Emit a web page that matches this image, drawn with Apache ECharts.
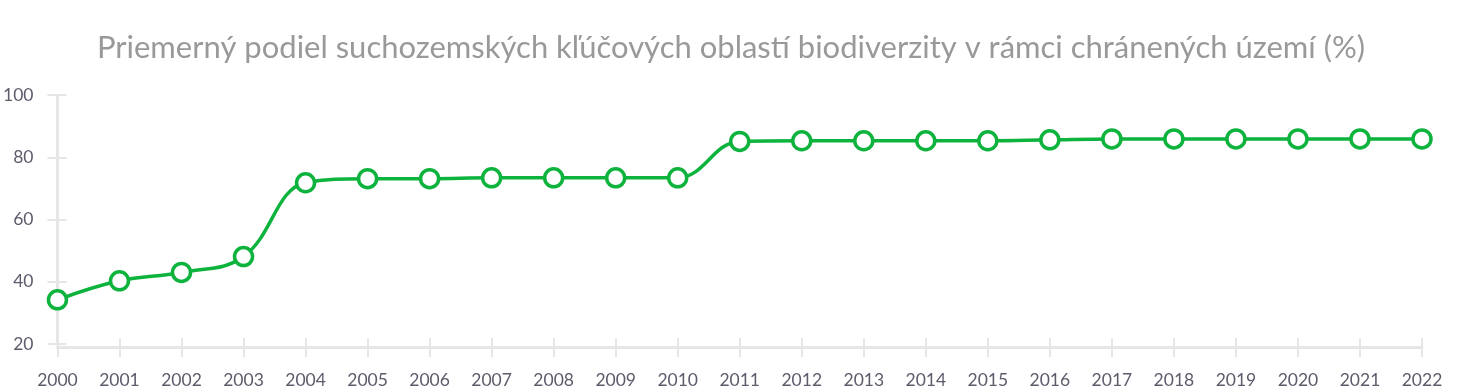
<!DOCTYPE html>
<html><head><meta charset="utf-8">
<script src="https://cdn.jsdelivr.net/npm/echarts@6/dist/echarts.min.js"></script>
<style>html,body{margin:0;padding:0;background:#fff}#c{width:1462px;height:390px}</style>
</head><body><div id="c"></div>
<script>
const title = 'Priemerný podiel suchozemských kľúčových oblastí biodiverzity v rámci chránených území (%)';
const years = ['2000','2001','2002','2003','2004','2005','2006','2007','2008','2009','2010','2011','2012','2013','2014','2015','2016','2017','2018','2019','2020','2021','2022'];
const values = [34.2,40.3,43.0,48.1,71.8,73.1,73.1,73.4,73.4,73.4,73.4,85.1,85.3,85.3,85.3,85.3,85.6,85.9,85.9,85.9,85.9,85.9,85.9];
const yTicks = {min:20, max:100, interval:20};
const green = '#0db33c';
const font = 'Lato, "Noto Sans", sans-serif';
const chart = echarts.init(document.getElementById('c'));
const tickStyle = {color:'#e6e6e6', width:2};
chart.setOption({
  animation:false,
  title:{text:title, left:'center', top:27, textStyle:{fontFamily:font, fontSize:31, fontWeight:'normal', color:'#999999'}},
  grid:{left:56, right:40, top:95, bottom:46},
  xAxis:[{type:'category', data:years, boundaryGap:false, offset:3,
    axisLine:{lineStyle:{color:'#e6e6e6', width:3}},
    axisTick:{show:true, length:10, lineStyle:tickStyle},
    axisLabel:{fontFamily:font, fontSize:17.5, color:'#5e5b6b', margin:24}},
    {type:'category', data:years, boundaryGap:false, position:'bottom', offset:3,
    axisLine:{show:false}, axisTick:{show:true, inside:true, length:9, lineStyle:tickStyle}, axisLabel:{show:false}}],
  yAxis:[{type:'value', min:yTicks.min, max:yTicks.max, interval:yTicks.interval,
    axisLine:{show:true, lineStyle:{color:'#e6e6e6', width:3}},
    axisTick:{show:true, length:10, lineStyle:tickStyle},
    splitLine:{show:false},
    axisLabel:{fontFamily:font, fontSize:17.5, color:'#5e5b6b', margin:24}},
    {type:'value', min:yTicks.min, max:yTicks.max, interval:yTicks.interval, position:'left',
    axisLine:{show:false}, axisTick:{show:true, inside:true, length:9, lineStyle:tickStyle},
    splitLine:{show:false}, axisLabel:{show:false}}],
  series:[{type:'line', data:values, smooth:0.4, symbol:'circle', symbolSize:18,
    lineStyle:{color:green, width:3.5},
    itemStyle:{color:'#fff', borderColor:green, borderWidth:3.5}}]
});
</script></body></html>
